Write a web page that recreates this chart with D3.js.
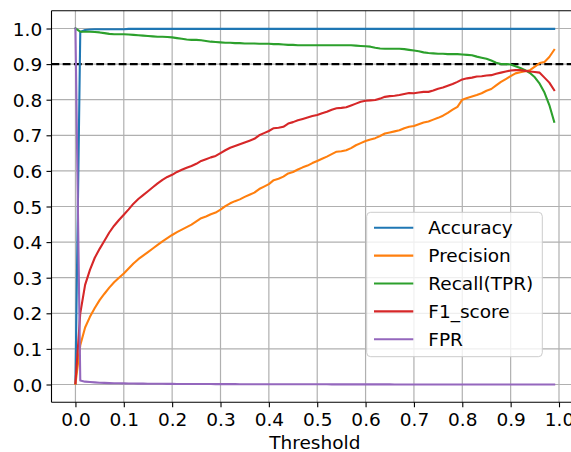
<!DOCTYPE html>
<html>
<head>
<meta charset="utf-8">
<script src="https://cdn.jsdelivr.net/npm/d3@7"></script>
<style>
  html, body { margin: 0; padding: 0; background: #fff; }
  svg { display: block; }
  text { font-family: "DejaVu Sans", sans-serif; }
</style>
</head>
<body>
<svg id="chart" width="571" height="452"></svg>
<script>
// ---- data (thresholds 0.00 .. 0.99) ----
const thresholds = d3.range(100).map(i => i / 100);

const accuracy = [
  0.002, 0.990, 0.996, 0.997, 0.998, 0.998, 0.998, 0.998, 0.998, 0.998,
  0.998, 0.999, 0.999, 0.999, 0.999, 0.999, 0.999, 0.999, 0.999, 0.999,
  0.999, 0.999, 0.999, 0.999, 0.999, 0.999, 0.999, 0.999, 0.999, 0.999,
  0.999, 0.999, 0.999, 0.999, 0.999, 0.999, 0.999, 0.999, 0.999, 0.999,
  0.999, 0.999, 0.999, 0.999, 0.999, 0.999, 0.999, 0.999, 0.999, 0.999,
  0.999, 0.999, 0.999, 0.999, 0.999, 0.999, 0.999, 0.999, 0.999, 0.999,
  0.999, 0.999, 0.999, 0.999, 0.999, 0.999, 0.999, 0.999, 0.999, 0.999,
  0.999, 0.999, 0.999, 0.999, 0.999, 0.999, 0.999, 0.999, 0.999, 0.999,
  0.999, 0.999, 0.999, 0.999, 0.999, 0.999, 0.999, 0.999, 0.999, 0.999,
  0.999, 0.999, 0.999, 0.999, 0.999, 0.999, 0.999, 0.999, 0.999, 0.999
];

const precision = [
  0.002, 0.110, 0.160, 0.190, 0.215, 0.237, 0.255, 0.272, 0.287, 0.300,
  0.312, 0.326, 0.340, 0.352, 0.362, 0.372, 0.382, 0.392, 0.402, 0.411,
  0.420, 0.428, 0.435, 0.442, 0.449, 0.458, 0.467, 0.472, 0.478, 0.483,
  0.491, 0.501, 0.509, 0.515, 0.520, 0.527, 0.533, 0.539, 0.549, 0.556,
  0.563, 0.574, 0.578, 0.584, 0.593, 0.597, 0.604, 0.610, 0.615, 0.622,
  0.628, 0.634, 0.640, 0.647, 0.654, 0.655, 0.658, 0.664, 0.672, 0.678,
  0.684, 0.688, 0.692, 0.698, 0.705, 0.708, 0.711, 0.714, 0.720, 0.724,
  0.726, 0.731, 0.736, 0.739, 0.744, 0.749, 0.755, 0.763, 0.772, 0.780,
  0.800, 0.805, 0.809, 0.813, 0.818, 0.825, 0.830, 0.840, 0.850, 0.858,
  0.866, 0.874, 0.877, 0.880, 0.883, 0.893, 0.903, 0.906, 0.920, 0.940
];

const recall = [
  1.000, 0.991, 0.991, 0.991, 0.990, 0.989, 0.987, 0.985, 0.984, 0.984,
  0.984, 0.983, 0.982, 0.981, 0.980, 0.979, 0.978, 0.977, 0.977, 0.976,
  0.975, 0.973, 0.971, 0.969, 0.968, 0.968, 0.967, 0.965, 0.963, 0.962,
  0.961, 0.960, 0.960, 0.959, 0.959, 0.958, 0.958, 0.958, 0.957, 0.957,
  0.957, 0.956, 0.956, 0.955, 0.954, 0.954, 0.953, 0.953, 0.953, 0.953,
  0.953, 0.953, 0.953, 0.953, 0.953, 0.953, 0.953, 0.953, 0.952, 0.951,
  0.950, 0.949, 0.946, 0.944, 0.943, 0.943, 0.943, 0.943, 0.942, 0.940,
  0.938, 0.936, 0.933, 0.931, 0.930, 0.929, 0.929, 0.928, 0.928, 0.928,
  0.927, 0.926, 0.925, 0.921, 0.918, 0.915, 0.910, 0.904, 0.900, 0.900,
  0.899, 0.894, 0.889, 0.883, 0.875, 0.863, 0.845, 0.820, 0.785, 0.738
];

const f1score = [
  0.004, 0.200, 0.280, 0.322, 0.356, 0.381, 0.404, 0.427, 0.446, 0.462,
  0.477, 0.492, 0.508, 0.521, 0.532, 0.543, 0.554, 0.565, 0.575, 0.583,
  0.589, 0.597, 0.603, 0.609, 0.614, 0.620, 0.628, 0.633, 0.638, 0.642,
  0.650, 0.658, 0.665, 0.670, 0.675, 0.680, 0.685, 0.690, 0.700, 0.706,
  0.712, 0.720, 0.721, 0.724, 0.733, 0.737, 0.742, 0.746, 0.750, 0.754,
  0.757, 0.762, 0.766, 0.772, 0.776, 0.777, 0.779, 0.784, 0.789, 0.794,
  0.797, 0.798, 0.799, 0.803, 0.808, 0.810, 0.811, 0.813, 0.816, 0.819,
  0.818, 0.820, 0.822, 0.822, 0.826, 0.831, 0.834, 0.839, 0.844, 0.850,
  0.857, 0.860, 0.862, 0.865, 0.866, 0.868, 0.869, 0.873, 0.876, 0.879,
  0.882, 0.883, 0.883, 0.881, 0.879, 0.878, 0.876, 0.862, 0.848, 0.827
];

const fpr = [
  1.000, 0.011, 0.008, 0.007, 0.006, 0.005, 0.0045, 0.004, 0.0037, 0.0034,
  0.0031, 0.0029, 0.0027, 0.0025, 0.0024, 0.0022, 0.0021, 0.002, 0.0019, 0.0018,
  0.0017, 0.0016, 0.0015, 0.0015, 0.0014, 0.0013, 0.0013, 0.0012, 0.0012, 0.0011,
  0.0011, 0.001, 0.001, 0.001, 0.0009, 0.0009, 0.0009, 0.0008, 0.0008, 0.0008,
  0.0007, 0.0007, 0.0007, 0.0007, 0.0006, 0.0006, 0.0006, 0.0006, 0.0005, 0.0005,
  0.0005, 0.0005, 0.0005, 0.0004, 0.0004, 0.0004, 0.0004, 0.0004, 0.0004, 0.0003,
  0.0003, 0.0003, 0.0003, 0.0003, 0.0003, 0.0003, 0.0002, 0.0002, 0.0002, 0.0002,
  0.0002, 0.0002, 0.0002, 0.0002, 0.0002, 0.0001, 0.0001, 0.0001, 0.0001, 0.0001,
  0.0001, 0.0001, 0.0001, 0.0001, 0.0001, 0.0001, 0.0001, 0.0001, 0.0001, 0.0001,
  0.0, 0.0, 0.0, 0.0, 0.0, 0.0, 0.0, 0.0, 0.0, 0.0
];

const referenceLine = 0.9;
const xTicks = d3.range(0, 11).map(i => i / 10);
const yTicks = d3.range(0, 11).map(i => i / 10);
const seriesNames = ["Accuracy", "Precision", "Recall(TPR)", "F1_score", "FPR"];
const xLabel = "Threshold";

// ---- layout ----
const FONT = "18.5px";
const svg = d3.select("#chart");
const colors = ["#1f77b4", "#ff7f0e", "#2ca02c", "#d62728", "#9467bd"];
const seriesValues = [accuracy, precision, recall, f1score, fpr];

const plot = { left: 51.5, right: 578.1, top: 10.7, bottom: 402.3 };
const x = d3.scaleLinear().domain([-0.0495, 1.0395]).range([plot.left, plot.right]);
const y = d3.scaleLinear().domain([-0.05, 1.05]).range([plot.bottom, plot.top]);

svg.append("defs").append("clipPath").attr("id", "clip")
  .append("rect")
  .attr("x", plot.left).attr("y", plot.top)
  .attr("width", plot.right - plot.left).attr("height", plot.bottom - plot.top);

// grid
const grid = svg.append("g");
grid.selectAll("line.vg").data(xTicks).join("line")
  .attr("x1", d => x(d)).attr("x2", d => x(d))
  .attr("y1", plot.top).attr("y2", plot.bottom)
  .attr("stroke", "#b0b0b0").attr("stroke-width", 1.2);
grid.selectAll("line.hg").data(yTicks).join("line")
  .attr("x1", plot.left).attr("x2", plot.right)
  .attr("y1", d => y(d)).attr("y2", d => y(d))
  .attr("stroke", "#b0b0b0").attr("stroke-width", 1.2);

const content = svg.append("g").attr("clip-path", "url(#clip)");

// reference dashed line
content.append("line")
  .attr("x1", plot.left).attr("x2", plot.right)
  .attr("y1", y(referenceLine)).attr("y2", y(referenceLine))
  .attr("stroke", "#000").attr("stroke-width", 2.1)
  .attr("stroke-dasharray", "7.8,3.4");

// series
const line = d3.line().x((d, i) => x(thresholds[i])).y(d => y(d));
seriesValues.forEach((vals, k) => {
  content.append("path")
    .datum(vals)
    .attr("d", line)
    .attr("fill", "none")
    .attr("stroke", colors[k])
    .attr("stroke-width", 2.1)
    .attr("stroke-linejoin", "round")
    .attr("stroke-linecap", "square");
});

// axes
const fmt = d3.format(".1f");
const xAxis = svg.append("g")
  .attr("transform", `translate(0,${plot.bottom})`)
  .call(d3.axisBottom(x).tickValues(xTicks).tickFormat(fmt).tickSize(5).tickPadding(5.3).tickSizeOuter(0));
const yAxis = svg.append("g")
  .attr("transform", `translate(${plot.left},0)`)
  .call(d3.axisLeft(y).tickValues(yTicks).tickFormat(fmt).tickSize(5).tickPadding(4.3).tickSizeOuter(0));

[xAxis, yAxis].forEach(g => {
  g.select(".domain").remove();
  g.selectAll(".tick line").attr("stroke", "#000").attr("stroke-width", 1.1);
  g.selectAll(".tick text").attr("fill", "#000").style("font-size", FONT)
    .style("font-family", "'DejaVu Sans', sans-serif");
});
yAxis.selectAll(".tick text").attr("dy", "0.36em");

// spines (left, top, bottom)
const spines = svg.append("g").attr("stroke", "#000").attr("stroke-width", 1.1).attr("fill", "none");
spines.append("line").attr("x1", plot.left).attr("x2", plot.left).attr("y1", plot.top).attr("y2", plot.bottom);
spines.append("line").attr("x1", plot.left).attr("x2", plot.right).attr("y1", plot.top).attr("y2", plot.top);
spines.append("line").attr("x1", plot.left).attr("x2", plot.right).attr("y1", plot.bottom).attr("y2", plot.bottom);
spines.append("line").attr("x1", plot.right).attr("x2", plot.right).attr("y1", plot.top).attr("y2", plot.bottom);

// x label
svg.append("text")
  .attr("x", (plot.left + plot.right) / 2)
  .attr("y", 449)
  .attr("text-anchor", "middle")
  .style("font-size", FONT)
  .attr("fill", "#000")
  .text(xLabel);

// legend
const legend = svg.append("g");
legend.append("rect")
  .attr("x", 366.7).attr("y", 212.3)
  .attr("width", 175.6).attr("height", 144.4)
  .attr("rx", 4).attr("ry", 4)
  .attr("fill", "#fff").attr("fill-opacity", 0.8)
  .attr("stroke", "#cccccc").attr("stroke-width", 1);
const rowY = d3.scaleLinear().domain([0, 4]).range([227.7, 339.3]);
seriesNames.forEach((name, k) => {
  const yy = rowY(k);
  legend.append("line")
    .attr("x1", 374).attr("x2", 413.3)
    .attr("y1", yy).attr("y2", yy)
    .attr("stroke", colors[k]).attr("stroke-width", 2.1);
  legend.append("text")
    .attr("x", 428.3).attr("y", yy + 6.6)
    .style("font-size", FONT)
    .attr("fill", "#000")
    .text(name);
});
</script>
</body>
</html>
